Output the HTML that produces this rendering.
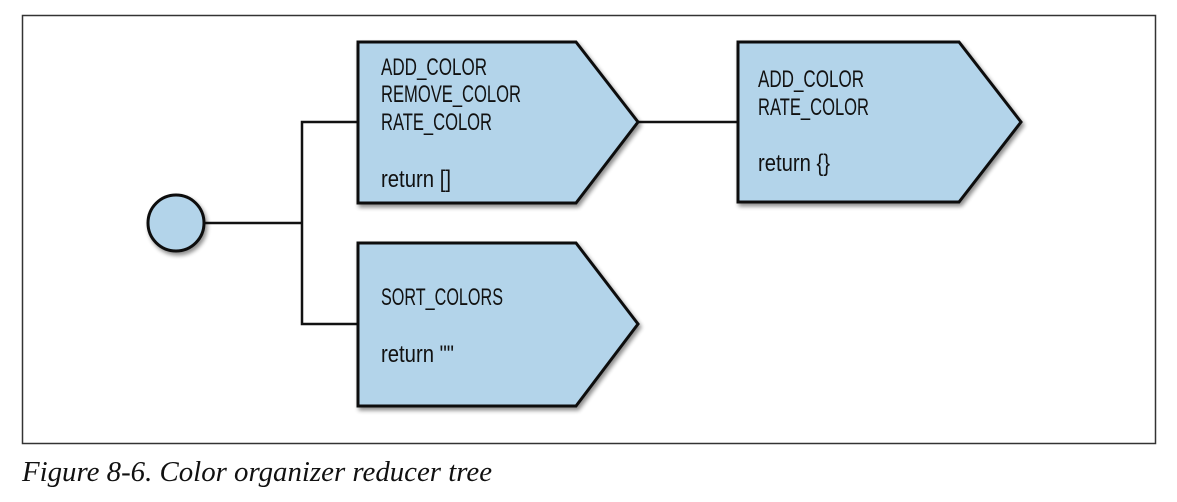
<!DOCTYPE html>
<html><head><meta charset="utf-8"><style>
html,body{margin:0;padding:0;background:#fff;width:1177px;height:502px;overflow:hidden}
</style></head><body>
<svg width="1177" height="502" xmlns="http://www.w3.org/2000/svg">
<defs><filter id="sh" x="-10%" y="-10%" width="130%" height="130%"><feGaussianBlur in="SourceAlpha" stdDeviation="2"/><feOffset dx="2" dy="3"/><feComponentTransfer><feFuncA type="linear" slope="0.45"/></feComponentTransfer><feMerge><feMergeNode/><feMergeNode in="SourceGraphic"/></feMerge></filter></defs>
<rect x="22.5" y="15.5" width="1133" height="428" fill="none" stroke="#333" stroke-width="1.5"/>
<g stroke="#111" stroke-width="2.5" fill="none">
<line x1="205" y1="223" x2="302" y2="223"/>
<polyline points="358,122 302,122 302,324 358,324"/>
<line x1="638" y1="122" x2="738" y2="122"/>
</g>
<g fill="#b3d4ea" stroke="#111" stroke-width="3" filter="url(#sh)">
<circle cx="176" cy="223" r="28"/>
<polygon points="358,42 576,42 638,122 576,203 358,203"/>
<polygon points="358,243 576,243 638,324 576,406 358,406"/>
<polygon points="738,42 959,42 1021,122 959,202 738,202"/>
</g>
<g font-family="'Liberation Sans Narrow','Liberation Sans',sans-serif" font-size="24" fill="#111">
<text x="381" y="75" textLength="106" lengthAdjust="spacingAndGlyphs">ADD_COLOR</text>
<text x="381" y="102" textLength="140" lengthAdjust="spacingAndGlyphs">REMOVE_COLOR</text>
<text x="381" y="130" textLength="111" lengthAdjust="spacingAndGlyphs">RATE_COLOR</text>
<text x="381" y="187" textLength="70" lengthAdjust="spacingAndGlyphs">return []</text>
<text x="381" y="305" textLength="122" lengthAdjust="spacingAndGlyphs">SORT_COLORS</text>
<text x="381" y="362" textLength="73" lengthAdjust="spacingAndGlyphs">return ""</text>
<text x="758" y="87" textLength="106" lengthAdjust="spacingAndGlyphs">ADD_COLOR</text>
<text x="758" y="115" textLength="111" lengthAdjust="spacingAndGlyphs">RATE_COLOR</text>
<text x="758" y="171" textLength="72" lengthAdjust="spacingAndGlyphs">return {}</text>
</g>
<text x="22" y="481" font-family="'Liberation Serif',serif" font-style="italic" font-size="28" fill="#111" textLength="470" lengthAdjust="spacingAndGlyphs">Figure 8-6. Color organizer reducer tree</text>
</svg>
</body></html>
